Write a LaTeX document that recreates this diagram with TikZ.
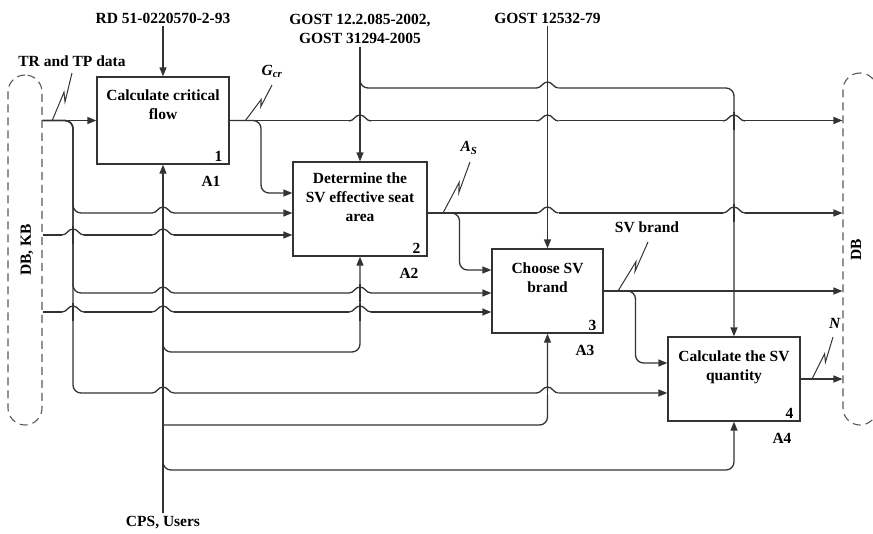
\documentclass[tikz,border=0pt]{standalone}
\usepackage{fontspec}
\setmainfont{Liberation Serif}
\usetikzlibrary{arrows.meta,positioning,calc}
\tikzset{
	procbox/.style={rectangle, draw=black!80, line width=1.3pt, inner sep=0pt},
	boxtext/.style={align=center, font=\bfseries\fontsize{15.5}{19}\selectfont, inner sep=0pt, anchor=north},
	boxnum/.style={font=\bfseries\fontsize{15.5}{19}\selectfont, inner sep=0pt},
	lbl/.style={align=center, font=\bfseries\fontsize{15.5}{19}\selectfont, inner sep=3pt},
	dbbox/.style={draw=black!65, dash pattern=on 8pt off 5pt, line width=1.1pt,
		rounded corners=17pt, minimum width=34pt, inner sep=0pt},
	link/.style={draw=black!80, line width=1.3pt},
	arr/.style={link, -{Triangle[length=9pt,width=7pt]}},
	squig/.style={draw=black!80, line width=1pt},
	hop/.pic={
		\fill[white] (-11,-2.2) rectangle (11,2.2);
		\draw[link] (-11,0) .. controls (-6,0) and (-5,-6) .. (0,-6) .. controls (5,-6) and (6,0) .. (11,0);
		\draw[link] (0,-9) -- (0,9);
	}
}
\newcommand{\squiggle}[2]{\draw[squig] (#1) -- ($(#1)!0.6!(#2)$) -- ($(#1)!0.4!(#2)+(5,0)$) -- (#2);}

\begin{document}
\begin{tikzpicture}[x=1pt, y=-1pt]
	\useasboundingbox (0,0) rectangle (873,533);
	% data stores
	\node[dbbox, minimum height=350pt] (dbL) at (25,250) {};
	\node[dbbox, minimum height=352pt] (dbR) at (860,249) {};
	\node[lbl, rotate=90] (dbkb) at (27,250) {DB, KB};
	\node[lbl, rotate=90] (db) at (856,250) {DB};
	% activities
	\node[procbox, minimum width=132pt, minimum height=87pt] (b1) at (163,120.5) {};
	\node[procbox, minimum width=134pt, minimum height=94pt] (b2) at (360,209) {};
	\node[procbox, minimum width=111pt, minimum height=84pt] (b3) at (547.5,291) {};
	\node[procbox, minimum width=132pt, minimum height=84pt] (b4) at (734,379) {};
	\node[boxtext] (t1) at ($(b1.north)+(0,13)$) {Calculate critical\\flow};
	\node[boxtext] (t2) at ($(b2.north)+(0,11)$) {Determine the\\SV effective seat\\area};
	\node[boxtext] (t3) at ($(b3.north)+(0,14)$) {Choose SV\\brand};
	\node[boxtext] (t4) at ($(b4.north)+(0,14)$) {Calculate the SV\\quantity};
	\node[boxnum, above left=3pt and 7pt of b1.south east] (n1) {1};
	\node[boxnum, above left=3pt and 7pt of b2.south east] (n2) {2};
	\node[boxnum, above left=3pt and 7pt of b3.south east] (n3) {3};
	\node[boxnum, above left=3pt and 7pt of b4.south east] (n4) {4};
	\node[boxnum, below left=11pt and 9pt of b1.south east] (a1) {A1};
	\node[boxnum, below left=11pt and 9pt of b2.south east] (a2) {A2};
	\node[boxnum, below left=11pt and 9pt of b3.south east] (a3) {A3};
	\node[boxnum, below left=11pt and 9pt of b4.south east] (a4) {A4};
	% labels
	\node[lbl] (rd) at (163,18) {RD 51-0220570-2-93};
	\node[lbl] (gost1) at (360,29) {GOST 12.2.085-2002,\\GOST 31294-2005};
	\node[lbl] (gost2) at (547.5,18) {GOST 12532-79};
	\node[lbl] (cps) at (163,523) {CPS, Users};
	\node[lbl] (tr) at (72,61) {TR and TP data};
	\node[lbl] (gcr) at (272,71) {\textit{G}\textsubscript{\textit{cr}}};
	\node[lbl] (as) at (469,148) {\textit{A}\textsubscript{\textit{S}}};
	\node[lbl] (svb) at (647,227) {SV brand};
	\node[lbl] (nn) at (835,323) {\textit{N}};
	% ports
	\coordinate (b2i1) at ($(b2.west)+(0,-16)$);
	\coordinate (b2i2) at ($(b2.west)+(0,4)$);
	\coordinate (b2i3) at ($(b2.west)+(0,26)$);
	\coordinate (b2o) at ($(b2.east)+(0,4)$);
	\coordinate (b3i1) at ($(b3.west)+(0,-21)$);
	\coordinate (b3i2) at ($(b3.west)+(0,2)$);
	\coordinate (b3i3) at ($(b3.west)+(0,21)$);
	\coordinate (b4i1) at ($(b4.west)+(0,-16)$);
	\coordinate (b4i2) at ($(b4.west)+(0,14)$);
	\coordinate (trx) at (73,121);
	\coordinate (gbend) at (734,88);
	\coordinate (m2bend) at (360,352);
	\coordinate (m3bend) at (547.5,425);
	\coordinate (m4bend) at (734,470);
	% controls
	\draw[arr] (rd.south) -- (b1.north);
	\draw[arr] (gost1.south) -- (b2.north);
	\draw[arr, rounded corners=8pt] (gost1.south) |- (gbend) -- (b4.north);
	\draw[arr] (gost2.south) -- (b3.north);
	% outputs
	\draw[arr] (b1.east) -- (b1.east -| dbR.west);
	\draw[arr, rounded corners=8pt] (b1.east) -| ($(b1.east)!0.5!(b2i1)$) |- (b2i1);
	\draw[arr] (b2o) -- (b2o -| dbR.west);
	\draw[arr, rounded corners=8pt] (b2o) -| ($(b2o)!0.5!(b3i1)$) |- (b3i1);
	\draw[arr] (b3.east) -- (b3.east -| dbR.west);
	\draw[arr, rounded corners=8pt] (b3.east) -| ($(b3.east)!0.5!(b4i1)$) |- (b4i1);
	\draw[arr] (b4.east) -- (b4.east -| dbR.west);
	% inputs
	\draw[arr] (b1.west -| dbL.east) -- (b1.west);
	\foreach \port in {b2i2, b3i2, b4i2}
		\draw[arr, rounded corners=8pt] (b1.west -| dbL.east) -| (trx |- \port) -- (\port);
	\draw[arr] (b2i3 -| dbL.east) -- (b2i3);
	\draw[arr] (b3i3 -| dbL.east) -- (b3i3);
	% mechanisms
	\draw[arr] (cps.north) -- (b1.south);
	\draw[arr, rounded corners=8pt] ($(b1.south |- m2bend)+(0,-12)$) |- (m2bend) -- (b2.south);
	\draw[arr, rounded corners=8pt] (b1.south |- m3bend) -- (m3bend) -- (b3.south);
	\draw[arr, rounded corners=8pt] ($(b1.south |- m4bend)+(0,-12)$) |- (m4bend) -- (b4.south);
	% line crossings
	\foreach \hx/\hy in {547.5/88, 360/121, 547.5/121, 734/121, 163/213, 547.5/213, 734/213,
		73/235, 163/235, 163/293, 360/293, 73/312, 163/312, 360/312, 163/393, 547.5/393}
		\pic at (\hx,\hy) {hop};
	% label leaders
	\squiggle{52,121}{72,73}
	\squiggle{245,121}{272,85}
	\squiggle{443,213}{470,162}
	\squiggle{618,291}{648,242}
	\squiggle{812,379}{833,337}
\end{tikzpicture}
\end{document}
